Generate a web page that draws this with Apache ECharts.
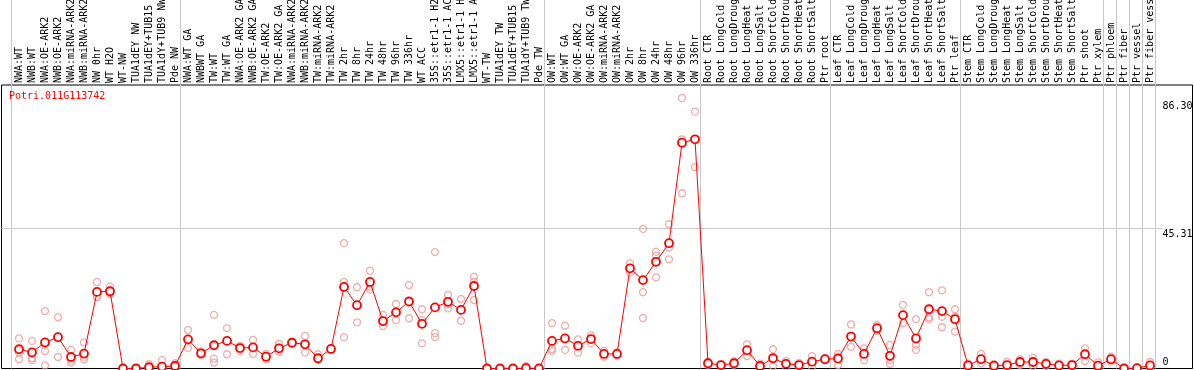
<!DOCTYPE html>
<html><head><meta charset="utf-8">
<script src="https://cdn.jsdelivr.net/npm/echarts@6/dist/echarts.min.js"></script>
<style>html,body{margin:0;padding:0;background:#fff}#c{width:1194px;height:370px}</style>
</head><body><div id="c"></div>
<script>
const geneId = 'Potri.011G113742';
const categories = [
 'NWA:WT','NWB:WT','NWA:OE-ARK2','NWB:OE-ARK2','NWA:miRNA-ARK2','NWB:miRNA-ARK2','NW 0hr','WT H2O','WT-NW','TUA1dEY NW','TUA1dEY+TUB15 NW','TUA1dY+TUB9 NW','Pde NW',
 'NWA:WT GA','NWBWT GA','TW:WT','TW:WT GA','NWA:OE-ARK2 GA','NWB:OE-ARK2 GA','TW:OE-ARK2','TW:OE-ARK2 GA','NWA:miRNA-ARK2','NWB:miRNA-ARK2','TW:miRNA-ARK2','TW:miRNA-ARK2',
 'TW 2hr','TW 8hr','TW 24hr','TW 48hr','TW 96hr','TW 336hr','WT ACC','35S::etr1-1 H2O','35S::etr1-1 ACC','LMX5::etr1-1 H2O','LMX5::etr1-1 ACC','WT-TW','TUA1dEY TW','TUA1dEY+TUB15 TW','TUA1dY+TUB9 TW','Pde TW',
 'OW:WT','OW:WT GA','OW:OE-ARK2','OW:OE-ARK2 GA','OW:miRNA-ARK2','OW:miRNA-ARK2','OW 2hr','OW 8hr','OW 24hr','OW 48hr','OW 96hr','OW 336hr',
 'Root CTR','Root LongCold','Root LongDrought','Root LongHeat','Root LongSalt','Root ShortCold','Root ShortDrought','Root ShortHeat','Root ShortSalt','Ptr root',
 'Leaf CTR','Leaf LongCold','Leaf LongDrought','Leaf LongHeat','Leaf LongSalt','Leaf ShortCold','Leaf ShortDrought','Leaf ShortHeat','Leaf ShortSalt','Ptr leaf',
 'Stem CTR','Stem LongCold','Stem LongDrought','Stem LongHeat','Stem LongSalt','Stem ShortCold','Stem ShortDrought','Stem ShortHeat','Stem ShortSalt','Ptr shoot','Ptr xylem',
 'Ptr phloem','Ptr fiber','Ptr vessel','Ptr fiber vessel'
];
const groupStarts = [0, 13, 41, 53, 63, 73, 84, 85, 86, 87];
const means = [
 6.2,5.2,8.4,10.1,3.7,4.8,24.7,24.9,0,0,0.4,0.6,0.8,
 9.4,4.9,7.5,8.9,6.6,6.8,3.8,6.5,8.3,7.8,3.3,6.3,
 26.3,20.4,27.9,15.3,18.1,21.6,14.4,19.7,21.5,18.9,26.6,0,0,0,0.1,0,
 8.9,9.7,7.3,9.5,4.7,4.7,32.3,28.5,34.4,40.4,72.8,73.9,
 1.7,1.1,1.7,5.9,0.8,3.3,1.5,1.1,2.2,3.0,
 3.2,10.3,4.7,13.0,4.1,17.2,9.7,19.1,18.5,15.9,
 1.0,3.0,0.9,1.1,2.1,2.1,1.5,1.0,1.1,4.6,0.9,
 3.0,0,0.1,1.0
];
const rep1 = [
 9.7,8.9,18.5,16.5,6.0,8.4,27.9,26.4,0,0,1.4,2.7,1.7,
 12.4,5.5,17.3,13.0,7.3,9.2,4.7,7.9,8.6,10.5,4.6,6.6,
 40.4,26.2,31.5,17.3,20.8,26.9,19.1,37.5,23.7,22.4,29.6,0,0,0,0.8,0,
 14.6,13.8,9.4,10.7,5.7,5.2,33.9,45.0,37.6,46.5,87.2,82.8,
 2.2,1.3,2.3,7.8,1.6,6.2,2.4,1.8,4.0,3.3,
 4.7,14.2,6.5,14.0,7.6,20.5,15.9,24.6,25.2,19.1,
 1.6,4.7,1.4,2.2,3.0,3.4,2.1,1.6,1.6,6.5,2.0,
 3.8,0,0.3,2.1
];
const rep2 = [
 3.0,2.7,1.0,3.7,1.9,3.0,23.2,24.3,0,0,0,0,0,
 6.7,4.3,1.9,4.6,5.7,4.7,3.0,5.4,8.0,5.2,2.7,6.0,
 10.1,14.9,25.5,13.7,15.6,16.2,8.1,10.1,19.4,15.4,22.1,0,0,0,0,0,
 5.7,6.0,5.1,8.1,3.8,4.2,30.9,16.3,29.4,35.2,56.5,64.9,
 1.2,0.9,1.2,4.0,0.2,0.8,0.5,0.6,0.6,2.7,
 1.1,7.0,2.7,12.2,1.5,14.6,6.0,15.9,13.3,11.9,
 0.4,1.7,0.4,0.2,1.1,0.8,0.9,0.6,0.6,2.4,0.2,
 2.2,0,0,0.6
];
const rep3 = [
 5.1,3.3,5.6,10.1,2.7,3.8,23.0,24.0,0,0,0,0,0.5,
 9.2,4.9,3.2,8.9,6.6,6.5,3.8,6.5,8.3,7.8,3.2,6.3,
 27.9,20.4,26.4,15.0,18.0,21.6,15.6,11.4,20.8,18.9,28.0,0,0,0,0,0,
 6.3,9.7,7.3,9.5,4.7,4.7,32.3,24.6,36.4,39.0,73.9,73.9,
 1.7,1.1,1.7,5.9,0.8,3.0,1.5,1.1,2.2,3.0,
 3.8,10.3,4.7,13.0,2.7,17.2,7.6,16.5,16.7,16.7,
 1.0,3.0,0.9,1.1,2.1,2.1,1.5,1.0,1.1,4.6,0.6,
 3.0,0,0,0.4
];
const yTickValues = [0, 45.31, 86.30];
const yMax = 91.4;

const FONT = 'DejaVu Sans Mono';
const chart = echarts.init(document.getElementById('c'), null, {renderer: 'canvas'});
const repStyle = {
  type: 'scatter', xAxisIndex: 0, yAxisIndex: 0, symbol: 'circle', symbolSize: 7,
  itemStyle: {color: 'rgba(0,0,0,0)', borderColor: '#ec9a9a', borderWidth: 1.3},
  clip: false, silent: true, z: 3
};
const toPairs = arr => arr.map((v, i) => [i, v]);
const gridBase = {containLabel: false, outerBoundsMode: 'none'};
chart.setOption({
  animation: false,
  backgroundColor: '#fff',
  title: {text: geneId, left: 9, top: 91, padding: 0,
    textStyle: {color: '#ff0000', fontFamily: FONT, fontSize: 10, fontWeight: 'normal'}},
  grid: [
    Object.assign({left: 12.5, width: 1144, top: 85, bottom: 1.5}, gridBase),
    Object.assign({left: 11, width: 1144, top: 0, bottom: 1.5}, gridBase),
    Object.assign({left: 1.5, right: 1.5, top: 85, bottom: 1.5, show: true, borderColor: '#000', borderWidth: 1, backgroundColor: 'rgba(0,0,0,0)'}, gridBase),
    Object.assign({left: 1.5, right: 32, top: 85, bottom: 1.5}, gridBase)
  ],
  xAxis: [
    {gridIndex: 0, type: 'category', data: categories, position: 'top', boundaryGap: true,
     axisLine: {show: false}, axisTick: {show: false}, splitLine: {show: false},
     axisLabel: {interval: 0, rotate: 90, margin: 2, fontFamily: FONT, fontSize: 10, color: '#000'}},
    {gridIndex: 1, type: 'category', data: categories, boundaryGap: true,
     axisLine: {show: false}, axisTick: {show: false}, axisLabel: {show: false},
     splitLine: {show: true, interval: (i) => groupStarts.indexOf(i) >= 0, lineStyle: {color: '#c8c8c8', width: 1}}},
    {gridIndex: 2, type: 'value', show: false},
    {gridIndex: 3, type: 'value', show: false}
  ],
  yAxis: [
    {gridIndex: 0, type: 'value', position: 'right', min: 0, max: yMax,
     axisLine: {show: false}, axisTick: {show: false}, splitLine: {show: false},
     axisLabel: {customValues: yTickValues, margin: 6, align: 'left', verticalAlign: 'middle',
       formatter: v => v === 0 ? '{b|0}' : '{t|' + v.toFixed(2) + '}',
       rich: {
         t: {fontFamily: FONT, fontSize: 10, color: '#000', lineHeight: 12, padding: [12, 0, 0, 0]},
         b: {fontFamily: FONT, fontSize: 10, color: '#000', lineHeight: 12, padding: [0, 0, 13, 0]}
       }}},
    {gridIndex: 1, type: 'value', show: false},
    {gridIndex: 2, type: 'value', show: false},
    {gridIndex: 3, type: 'value', min: 0, max: yMax, interval: 45.31,
     axisLine: {show: false}, axisTick: {show: false}, axisLabel: {show: false},
     splitLine: {show: true, lineStyle: {width: 1, color: ['rgba(0,0,0,0)', '#c8c8c8', 'rgba(0,0,0,0)', 'rgba(0,0,0,0)']}}}
  ],
  series: [
    Object.assign({name: 'rep1', data: toPairs(rep1)}, repStyle),
    Object.assign({name: 'rep2', data: toPairs(rep2)}, repStyle),
    Object.assign({name: 'rep3', data: toPairs(rep3)}, repStyle),
    {name: 'mean', type: 'line', xAxisIndex: 0, yAxisIndex: 0, data: means,
     symbol: 'circle', symbolSize: 8, showAllSymbol: true, clip: false, silent: true, z: 5,
     itemStyle: {color: '#ffffff', borderColor: '#ff0000', borderWidth: 1.8},
     lineStyle: {color: '#ff0000', width: 1}}
  ]
});
</script>
</body></html>
